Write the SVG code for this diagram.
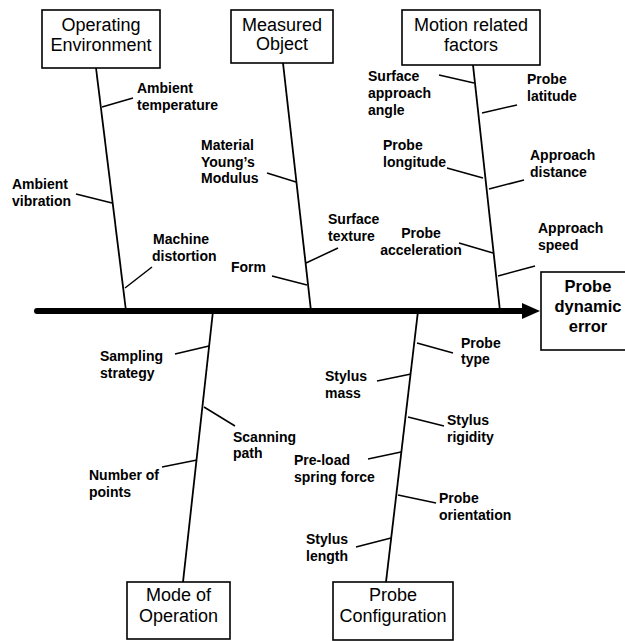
<svg xmlns="http://www.w3.org/2000/svg" width="625" height="641" viewBox="0 0 625 641">
<style>
.box{fill:#fff;stroke:#000;stroke-width:1.6}
.bt{font-family:"Liberation Sans",Arial,sans-serif;font-size:18px;text-anchor:middle;fill:#000}
.eff{font-family:"Liberation Sans",Arial,sans-serif;font-size:16.5px;font-weight:bold;text-anchor:middle;fill:#000}
.lb{font-family:"Liberation Sans",Arial,sans-serif;font-size:14px;font-weight:bold;fill:#000}
.bone{stroke:#000;stroke-width:1.8;fill:none}
.tw{stroke:#000;stroke-width:1.5;fill:none}
</style>
<rect width="625" height="641" fill="#fff"/>
<g id="connectors">
<line x1="37" y1="311" x2="524" y2="311" stroke="#000" stroke-width="6" stroke-linecap="round"/>
<polygon points="522,303 540,311 522,319" fill="#000"/>
<line class="bone" x1="96" y1="68" x2="126" y2="311"/>
<line class="bone" x1="283" y1="63" x2="311" y2="311"/>
<line class="bone" x1="473" y1="65" x2="500" y2="311"/>
<line class="bone" x1="213" y1="311" x2="183" y2="582"/>
<line class="bone" x1="418" y1="311" x2="386" y2="582"/>
<line class="tw" x1="102" y1="107" x2="133" y2="98"/>
<line class="tw" x1="76" y1="194" x2="112" y2="203"/>
<line class="tw" x1="125" y1="288" x2="152" y2="267"/>
<line class="tw" x1="267" y1="173" x2="296" y2="182"/>
<line class="tw" x1="306" y1="263" x2="338" y2="248"/>
<line class="tw" x1="272" y1="276" x2="307" y2="285"/>
<line class="tw" x1="439" y1="75" x2="474" y2="83"/>
<line class="tw" x1="482" y1="113" x2="517" y2="105"/>
<line class="tw" x1="447" y1="168" x2="483" y2="178"/>
<line class="tw" x1="489" y1="189" x2="524" y2="180"/>
<line class="tw" x1="459" y1="243" x2="493" y2="253"/>
<line class="tw" x1="498" y1="276" x2="535" y2="266"/>
<line class="tw" x1="175" y1="354" x2="209" y2="346"/>
<line class="tw" x1="204" y1="407" x2="235" y2="426"/>
<line class="tw" x1="162" y1="467" x2="197" y2="460"/>
<line class="tw" x1="417" y1="343" x2="453" y2="353"/>
<line class="tw" x1="377" y1="381" x2="411" y2="374"/>
<line class="tw" x1="408" y1="417" x2="444" y2="426"/>
<line class="tw" x1="368" y1="459" x2="401" y2="452"/>
<line class="tw" x1="398" y1="495" x2="436" y2="503"/>
<line class="tw" x1="356" y1="547" x2="391" y2="538"/>
</g>
<g id="operating-environment">
<rect class="box" x="42" y="10" width="118" height="58"/>
<text class="bt" x="101" y="31">Operating</text>
<text class="bt" x="101" y="51">Environment</text>
</g>
<g id="measured-object">
<rect class="box" x="231" y="10" width="102" height="53"/>
<text class="bt" x="282" y="31">Measured</text>
<text class="bt" x="282" y="50">Object</text>
</g>
<g id="motion-related-factors">
<rect class="box" x="402" y="10" width="138" height="55"/>
<text class="bt" x="471" y="31">Motion related</text>
<text class="bt" x="471" y="51">factors</text>
</g>
<g id="probe-dynamic-error">
<rect class="box" x="541" y="272" width="95" height="78"/>
<text class="eff" x="588" y="292">Probe</text>
<text class="eff" x="588" y="312">dynamic</text>
<text class="eff" x="588" y="332">error</text>
</g>
<g id="mode-of-operation">
<rect class="box" x="127" y="582" width="103" height="57"/>
<text class="bt" x="178.5" y="601">Mode of</text>
<text class="bt" x="178.5" y="622">Operation</text>
</g>
<g id="probe-configuration">
<rect class="box" x="333" y="582" width="120" height="58"/>
<text class="bt" x="393" y="601">Probe</text>
<text class="bt" x="393" y="622">Configuration</text>
</g>
<g id="labels">
<text class="lb" x="137" y="93">Ambient</text>
<text class="lb" x="137" y="110">temperature</text>
<text class="lb" x="12" y="189">Ambient</text>
<text class="lb" x="12" y="206">vibration</text>
<text class="lb" x="153" y="244">Machine</text>
<text class="lb" x="152" y="261">distortion</text>
<text class="lb" x="201" y="150">Material</text>
<text class="lb" x="201" y="167">Young’s</text>
<text class="lb" x="201" y="183">Modulus</text>
<text class="lb" x="328" y="224">Surface</text>
<text class="lb" x="328" y="241">texture</text>
<text class="lb" x="231" y="272">Form</text>
<text class="lb" x="368" y="81">Surface</text>
<text class="lb" x="368" y="98">approach</text>
<text class="lb" x="368" y="115">angle</text>
<text class="lb" x="527" y="84">Probe</text>
<text class="lb" x="527" y="101">latitude</text>
<text class="lb" x="383" y="150">Probe</text>
<text class="lb" x="383" y="167">longitude</text>
<text class="lb" x="530" y="160">Approach</text>
<text class="lb" x="530" y="177">distance</text>
<text class="lb" x="421" y="238" text-anchor="middle">Probe</text>
<text class="lb" x="421" y="255" text-anchor="middle">acceleration</text>
<text class="lb" x="538" y="233">Approach</text>
<text class="lb" x="538" y="250">speed</text>
<text class="lb" x="100" y="361">Sampling</text>
<text class="lb" x="100" y="378">strategy</text>
<text class="lb" x="233" y="442">Scanning</text>
<text class="lb" x="233" y="458">path</text>
<text class="lb" x="89" y="480">Number of</text>
<text class="lb" x="89" y="497">points</text>
<text class="lb" x="461" y="348">Probe</text>
<text class="lb" x="461" y="364">type</text>
<text class="lb" x="325" y="381">Stylus</text>
<text class="lb" x="325" y="398">mass</text>
<text class="lb" x="447" y="425">Stylus</text>
<text class="lb" x="447" y="442">rigidity</text>
<text class="lb" x="294" y="465">Pre-load</text>
<text class="lb" x="294" y="482">spring force</text>
<text class="lb" x="439" y="503">Probe</text>
<text class="lb" x="439" y="520">orientation</text>
<text class="lb" x="306" y="544">Stylus</text>
<text class="lb" x="306" y="561">length</text>
</g>
</svg>
